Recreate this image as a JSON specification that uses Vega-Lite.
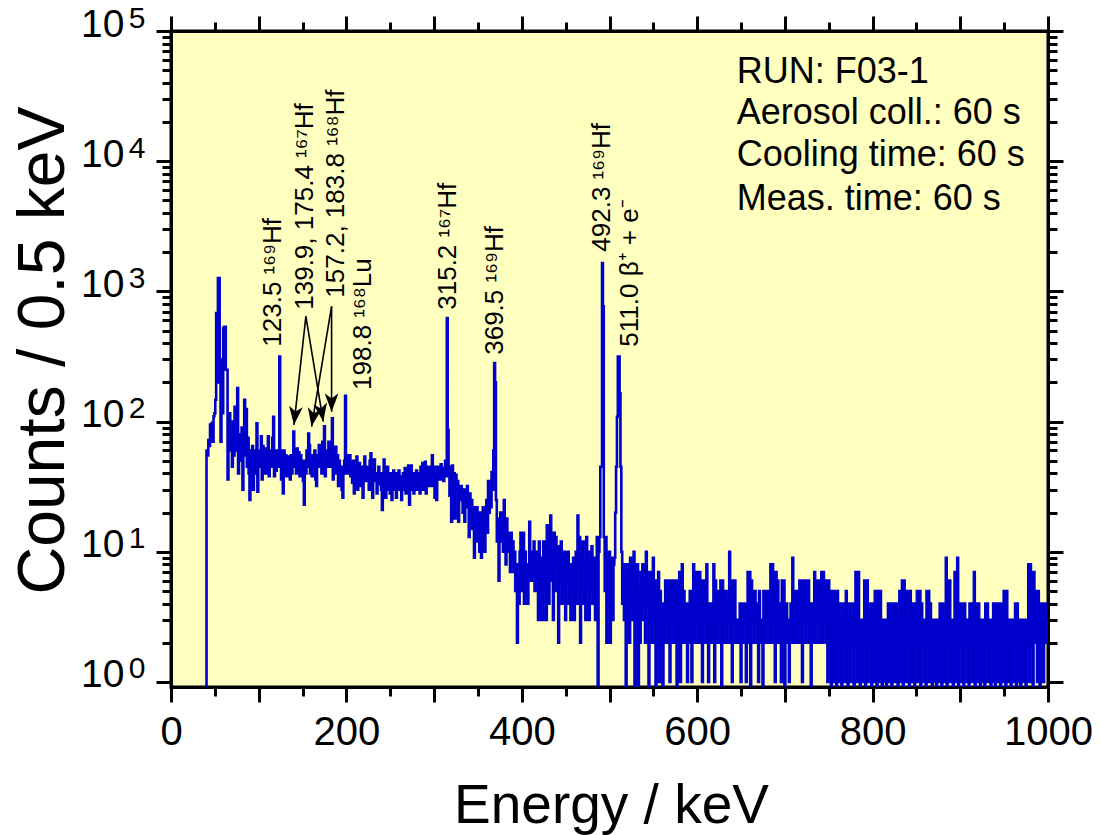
{
"$schema": "https://vega.github.io/schema/vega-lite/v6.json",
"width": 877, "height": 656,
"autosize": {"type": "none"},
"padding": {"left": 171, "top": 31, "right": 53, "bottom": 148},
"background": "white",
"config": {
  "view": {"fill": "#ffffc0", "stroke": "black", "strokeWidth": 3},
  "font": "Liberation Sans",
  "axis": {"domainColor": "black", "domainWidth": 3, "tickColor": "black", "tickWidth": 3, "grid": false, "labelColor": "black", "titleColor": "black", "labelFont": "Liberation Sans", "titleFont": "Liberation Sans", "titleFontWeight": "normal", "labelFlush": false, "labelOverlap": false, "labelBound": false}
},
"resolve": {"axis": {"x": "independent", "y": "independent"}},
"layer": [
{
  "data": {"values": [
{"e":40,"c":0.8},{"e":41,"c":60},{"e":42,"c":55},{"e":43,"c":72},{"e":44,"c":65},{"e":45,"c":95},{"e":46,"c":80},{"e":47,"c":98},{"e":48,"c":70},{"e":49,"c":110},
{"e":50,"c":116},{"e":51,"c":147},{"e":52,"c":682},{"e":53,"c":200},{"e":54,"c":1268},{"e":55,"c":1268},{"e":56,"c":300},{"e":57,"c":70},{"e":58,"c":116},{"e":59,"c":116},
{"e":60,"c":523},{"e":61,"c":535},{"e":62,"c":535},{"e":63,"c":250},{"e":64,"c":250},{"e":65,"c":36},{"e":66,"c":80},{"e":67,"c":116},{"e":68,"c":60},{"e":69,"c":72},
{"e":70,"c":45},{"e":71,"c":100},{"e":72,"c":55},{"e":73,"c":130},{"e":74,"c":60},{"e":75,"c":95},{"e":76,"c":181},{"e":77,"c":40},{"e":78,"c":80},{"e":79,"c":50},
{"e":80,"c":68},{"e":81,"c":90},{"e":82,"c":30},{"e":83,"c":70},{"e":84,"c":147},{"e":85,"c":55},{"e":86,"c":125},{"e":87,"c":45},{"e":88,"c":75},{"e":89,"c":40},
{"e":90,"c":25},{"e":91,"c":60},{"e":92,"c":45},{"e":93,"c":65},{"e":94,"c":30},{"e":95,"c":55},{"e":96,"c":40},{"e":97,"c":60},{"e":98,"c":97},{"e":99,"c":29},
{"e":100,"c":55},{"e":101,"c":45},{"e":102,"c":60},{"e":103,"c":77},{"e":104,"c":36},{"e":105,"c":65},{"e":106,"c":45},{"e":107,"c":55},{"e":108,"c":40},{"e":109,"c":62},
{"e":110,"c":42},{"e":111,"c":77},{"e":112,"c":38},{"e":113,"c":55},{"e":114,"c":60},{"e":115,"c":45},{"e":116,"c":75},{"e":117,"c":109},{"e":118,"c":38},{"e":119,"c":55},
{"e":120,"c":42},{"e":121,"c":60},{"e":122,"c":50},{"e":123,"c":45},{"e":124,"c":316},{"e":125,"c":60},{"e":126,"c":36},{"e":127,"c":50},{"e":128,"c":28},{"e":129,"c":60},
{"e":130,"c":40},{"e":131,"c":55},{"e":132,"c":38},{"e":133,"c":54},{"e":134,"c":42},{"e":135,"c":50},{"e":136,"c":36},{"e":137,"c":55},{"e":138,"c":40},{"e":139,"c":52},
{"e":140,"c":84},{"e":141,"c":45},{"e":142,"c":60},{"e":143,"c":40},{"e":144,"c":62},{"e":145,"c":45},{"e":146,"c":58},{"e":147,"c":38},{"e":148,"c":55},{"e":149,"c":45},
{"e":150,"c":50},{"e":151,"c":35},{"e":152,"c":23},{"e":153,"c":50},{"e":154,"c":40},{"e":155,"c":60},{"e":156,"c":45},{"e":157,"c":81},{"e":158,"c":66},{"e":159,"c":40},
{"e":160,"c":55},{"e":161,"c":38},{"e":162,"c":50},{"e":163,"c":45},{"e":164,"c":60},{"e":165,"c":36},{"e":166,"c":32},{"e":167,"c":55},{"e":168,"c":45},{"e":169,"c":66},
{"e":170,"c":50},{"e":171,"c":60},{"e":172,"c":40},{"e":173,"c":70},{"e":174,"c":55},{"e":175,"c":92},{"e":176,"c":38},{"e":177,"c":60},{"e":178,"c":45},{"e":179,"c":55},
{"e":180,"c":70},{"e":181,"c":50},{"e":182,"c":45},{"e":183,"c":65},{"e":184,"c":106},{"e":185,"c":36},{"e":186,"c":55},{"e":187,"c":45},{"e":188,"c":64},{"e":189,"c":40},
{"e":190,"c":55},{"e":191,"c":32},{"e":192,"c":50},{"e":193,"c":40},{"e":194,"c":45},{"e":195,"c":30},{"e":196,"c":26},{"e":197,"c":40},{"e":198,"c":50},{"e":199,"c":158},
{"e":200,"c":45},{"e":201,"c":40},{"e":202,"c":55},{"e":203,"c":42},{"e":204,"c":55},{"e":205,"c":38},{"e":206,"c":45},{"e":207,"c":34},{"e":208,"c":50},{"e":209,"c":28},
{"e":210,"c":45},{"e":211,"c":35},{"e":212,"c":54},{"e":213,"c":30},{"e":214,"c":40},{"e":215,"c":48},{"e":216,"c":32},{"e":217,"c":45},{"e":218,"c":36},{"e":219,"c":26},
{"e":220,"c":40},{"e":221,"c":54},{"e":222,"c":35},{"e":223,"c":45},{"e":224,"c":36},{"e":225,"c":42},{"e":226,"c":30},{"e":227,"c":50},{"e":228,"c":57},{"e":229,"c":32},
{"e":230,"c":26},{"e":231,"c":42},{"e":232,"c":51},{"e":233,"c":35},{"e":234,"c":40},{"e":235,"c":28},{"e":236,"c":38},{"e":237,"c":45},{"e":238,"c":33},{"e":239,"c":40},
{"e":240,"c":30},{"e":241,"c":21},{"e":242,"c":40},{"e":243,"c":51},{"e":244,"c":35},{"e":245,"c":26},{"e":246,"c":38},{"e":247,"c":45},{"e":248,"c":30},{"e":249,"c":38},
{"e":250,"c":28},{"e":251,"c":40},{"e":252,"c":25},{"e":253,"c":35},{"e":254,"c":42},{"e":255,"c":30},{"e":256,"c":38},{"e":257,"c":26},{"e":258,"c":40},{"e":259,"c":33},
{"e":260,"c":42},{"e":261,"c":30},{"e":262,"c":38},{"e":263,"c":25},{"e":264,"c":36},{"e":265,"c":40},{"e":266,"c":30},{"e":267,"c":44},{"e":268,"c":28},{"e":269,"c":38},
{"e":270,"c":34},{"e":271,"c":46},{"e":272,"c":23},{"e":273,"c":40},{"e":274,"c":46},{"e":275,"c":30},{"e":276,"c":38},{"e":277,"c":28},{"e":278,"c":40},{"e":279,"c":32},
{"e":280,"c":42},{"e":281,"c":30},{"e":282,"c":36},{"e":283,"c":40},{"e":284,"c":28},{"e":285,"c":45},{"e":286,"c":35},{"e":287,"c":48},{"e":288,"c":30},{"e":289,"c":40},
{"e":290,"c":49},{"e":291,"c":28},{"e":292,"c":45},{"e":293,"c":35},{"e":294,"c":42},{"e":295,"c":32},{"e":296,"c":45},{"e":297,"c":38},{"e":298,"c":55},{"e":299,"c":32},
{"e":300,"c":45},{"e":301,"c":26},{"e":302,"c":40},{"e":303,"c":25},{"e":304,"c":45},{"e":305,"c":38},{"e":306,"c":42},{"e":307,"c":36},{"e":308,"c":47},{"e":309,"c":40},
{"e":310,"c":44},{"e":311,"c":35},{"e":312,"c":40},{"e":313,"c":50},{"e":314,"c":38},{"e":315,"c":624},{"e":316,"c":86},{"e":317,"c":40},{"e":318,"c":27},{"e":319,"c":45},
{"e":320,"c":17},{"e":321,"c":46},{"e":322,"c":35},{"e":323,"c":40},{"e":324,"c":18},{"e":325,"c":39},{"e":326,"c":30},{"e":327,"c":35},{"e":328,"c":17},{"e":329,"c":29},
{"e":330,"c":25},{"e":331,"c":32},{"e":332,"c":29},{"e":333,"c":20},{"e":334,"c":30},{"e":335,"c":17},{"e":336,"c":28},{"e":337,"c":25},{"e":338,"c":32},{"e":339,"c":22},
{"e":340,"c":13},{"e":341,"c":28},{"e":342,"c":20},{"e":343,"c":25},{"e":344,"c":15},{"e":345,"c":22},{"e":346,"c":9},{"e":347,"c":18},{"e":348,"c":15},{"e":349,"c":22},
{"e":350,"c":12},{"e":351,"c":18},{"e":352,"c":10},{"e":353,"c":20},{"e":354,"c":9},{"e":355,"c":15},{"e":356,"c":22},{"e":357,"c":12},{"e":358,"c":10},{"e":359,"c":18},
{"e":360,"c":25},{"e":361,"c":14},{"e":362,"c":35},{"e":363,"c":20},{"e":364,"c":30},{"e":365,"c":22},{"e":366,"c":41},{"e":367,"c":30},{"e":368,"c":60},{"e":369,"c":281},
{"e":370,"c":200},{"e":371,"c":25},{"e":372,"c":12},{"e":373,"c":18},{"e":374,"c":6},{"e":375,"c":14},{"e":376,"c":20},{"e":377,"c":12},{"e":378,"c":19},{"e":379,"c":10},
{"e":380,"c":25},{"e":381,"c":15},{"e":382,"c":8},{"e":383,"c":18},{"e":384,"c":14},{"e":385,"c":10},{"e":386,"c":12},{"e":387,"c":7},{"e":388,"c":14},{"e":389,"c":9},
{"e":390,"c":12},{"e":391,"c":7},{"e":392,"c":10},{"e":393,"c":5},{"e":394,"c":8},{"e":395,"c":2},{"e":396,"c":6},{"e":397,"c":4},{"e":398,"c":10},{"e":399,"c":14},
{"e":400,"c":5},{"e":401,"c":8},{"e":402,"c":14},{"e":403,"c":4},{"e":404,"c":10},{"e":405,"c":5},{"e":406,"c":8},{"e":407,"c":4},{"e":408,"c":7},{"e":409,"c":17},
{"e":410,"c":8},{"e":411,"c":6},{"e":412,"c":10},{"e":413,"c":7},{"e":414,"c":12},{"e":415,"c":5},{"e":416,"c":9},{"e":417,"c":6},{"e":418,"c":10},{"e":419,"c":3},
{"e":420,"c":12},{"e":421,"c":6},{"e":422,"c":3},{"e":423,"c":9},{"e":424,"c":3},{"e":425,"c":12},{"e":426,"c":5},{"e":427,"c":10},{"e":428,"c":3},{"e":429,"c":16},
{"e":430,"c":8},{"e":431,"c":4},{"e":432,"c":12},{"e":433,"c":19},{"e":434,"c":6},{"e":435,"c":10},{"e":436,"c":3},{"e":437,"c":14},{"e":438,"c":8},{"e":439,"c":13},
{"e":440,"c":5},{"e":441,"c":9},{"e":442,"c":2},{"e":443,"c":11},{"e":444,"c":6},{"e":445,"c":12},{"e":446,"c":4},{"e":447,"c":8},{"e":448,"c":5},{"e":449,"c":10},
{"e":450,"c":3},{"e":451,"c":9},{"e":452,"c":6},{"e":453,"c":10},{"e":454,"c":4},{"e":455,"c":7},{"e":456,"c":3},{"e":457,"c":8},{"e":458,"c":5},{"e":459,"c":9},
{"e":460,"c":3},{"e":461,"c":6},{"e":462,"c":10},{"e":463,"c":4},{"e":464,"c":19},{"e":465,"c":8},{"e":466,"c":13},{"e":467,"c":2},{"e":468,"c":9},{"e":469,"c":5},
{"e":470,"c":12},{"e":471,"c":4},{"e":472,"c":8},{"e":473,"c":3},{"e":474,"c":13},{"e":475,"c":6},{"e":476,"c":10},{"e":477,"c":3},{"e":478,"c":8},{"e":479,"c":5},
{"e":480,"c":11},{"e":481,"c":4},{"e":482,"c":9},{"e":483,"c":6},{"e":484,"c":3},{"e":485,"c":8},{"e":486,"c":13},{"e":487,"c":0.8},{"e":488,"c":10},{"e":489,"c":13},
{"e":490,"c":45},{"e":491,"c":45},{"e":492,"c":1653},{"e":493,"c":767},{"e":494,"c":13},{"e":495,"c":5},{"e":496,"c":13},{"e":497,"c":2},{"e":498,"c":9},{"e":499,"c":4},
{"e":500,"c":10},{"e":501,"c":2},{"e":502,"c":6},{"e":503,"c":9},{"e":504,"c":3},{"e":505,"c":8},{"e":506,"c":9},{"e":507,"c":20},{"e":508,"c":45},{"e":509,"c":109},
{"e":510,"c":316},{"e":511,"c":316},{"e":512,"c":165},{"e":513,"c":45},{"e":514,"c":10},{"e":515,"c":4},{"e":516,"c":8},{"e":517,"c":3},{"e":518,"c":6},{"e":519,"c":0.8},
{"e":520,"c":8},{"e":521,"c":3},{"e":522,"c":6},{"e":523,"c":2},{"e":524,"c":9},{"e":525,"c":4},{"e":526,"c":8},{"e":527,"c":3},{"e":528,"c":10},{"e":529,"c":0.8},
{"e":530,"c":6},{"e":531,"c":3},{"e":532,"c":8},{"e":533,"c":0.8},{"e":534,"c":5},{"e":535,"c":2},{"e":536,"c":7},{"e":537,"c":3},{"e":538,"c":8},{"e":539,"c":4},
{"e":540,"c":6},{"e":541,"c":2},{"e":542,"c":10},{"e":543,"c":4},{"e":544,"c":7},{"e":545,"c":0.8},{"e":546,"c":5},{"e":547,"c":3},{"e":548,"c":7},{"e":549,"c":2},
{"e":550,"c":9},{"e":551,"c":3},{"e":552,"c":6},{"e":553,"c":0.8},{"e":554,"c":5},{"e":555,"c":2},{"e":556,"c":7},{"e":557,"c":1},{"e":558,"c":5},{"e":559,"c":2},
{"e":560,"c":4},{"e":561,"c":0.8},{"e":562,"c":4},{"e":563,"c":2},{"e":564,"c":6},{"e":565,"c":3},{"e":566,"c":6},{"e":567,"c":2},{"e":568,"c":6},{"e":569,"c":1},
{"e":570,"c":5},{"e":571,"c":2},{"e":572,"c":6},{"e":573,"c":3},{"e":574,"c":6},{"e":575,"c":2},{"e":576,"c":5},{"e":577,"c":0.8},{"e":578,"c":6},{"e":579,"c":2},
{"e":580,"c":7},{"e":581,"c":1},{"e":582,"c":3},{"e":583,"c":8},{"e":584,"c":2},{"e":585,"c":5},{"e":586,"c":2},{"e":587,"c":4},{"e":588,"c":3},{"e":589,"c":1},
{"e":590,"c":4},{"e":591,"c":2},{"e":592,"c":5},{"e":593,"c":3},{"e":594,"c":1},{"e":595,"c":5},{"e":596,"c":8},{"e":597,"c":2},{"e":598,"c":7},{"e":599,"c":3},
{"e":600,"c":7},{"e":601,"c":2},{"e":602,"c":6},{"e":603,"c":7},{"e":604,"c":2},{"e":605,"c":6},{"e":606,"c":1},{"e":607,"c":6},{"e":608,"c":3},{"e":609,"c":6},
{"e":610,"c":2},{"e":611,"c":8},{"e":612,"c":3},{"e":613,"c":1},{"e":614,"c":4},{"e":615,"c":2},{"e":616,"c":4},{"e":617,"c":3},{"e":618,"c":2},{"e":619,"c":8},
{"e":620,"c":1},{"e":621,"c":6},{"e":622,"c":2},{"e":623,"c":5},{"e":624,"c":3},{"e":625,"c":5},{"e":626,"c":2},{"e":627,"c":6},{"e":628,"c":0.8},{"e":629,"c":6},
{"e":630,"c":2},{"e":631,"c":5},{"e":632,"c":3},{"e":633,"c":5},{"e":634,"c":2},{"e":635,"c":4},{"e":636,"c":3},{"e":637,"c":10},{"e":638,"c":2},{"e":639,"c":4},
{"e":640,"c":1},{"e":641,"c":6},{"e":642,"c":3},{"e":643,"c":6},{"e":644,"c":2},{"e":645,"c":3},{"e":646,"c":2},{"e":647,"c":3},{"e":648,"c":2},{"e":649,"c":4},
{"e":650,"c":1},{"e":651,"c":4},{"e":652,"c":2},{"e":653,"c":4},{"e":654,"c":3},{"e":655,"c":4},{"e":656,"c":1},{"e":657,"c":3},{"e":658,"c":7},{"e":659,"c":2},
{"e":660,"c":7},{"e":661,"c":0.8},{"e":662,"c":6},{"e":663,"c":3},{"e":664,"c":5},{"e":665,"c":2},{"e":666,"c":5},{"e":667,"c":3},{"e":668,"c":4},{"e":669,"c":2},
{"e":670,"c":1},{"e":671,"c":5},{"e":672,"c":3},{"e":673,"c":2},{"e":674,"c":3},{"e":675,"c":0.8},{"e":676,"c":5},{"e":677,"c":2},{"e":678,"c":5},{"e":679,"c":3},
{"e":680,"c":5},{"e":681,"c":2},{"e":682,"c":4},{"e":683,"c":3},{"e":684,"c":8},{"e":685,"c":2},{"e":686,"c":8},{"e":687,"c":3},{"e":688,"c":7},{"e":689,"c":1},
{"e":690,"c":7},{"e":691,"c":2},{"e":692,"c":6},{"e":693,"c":3},{"e":694,"c":2},{"e":695,"c":4},{"e":696,"c":1},{"e":697,"c":6},{"e":698,"c":2},{"e":699,"c":6},
{"e":700,"c":0.8},{"e":701,"c":3},{"e":702,"c":4},{"e":703,"c":2},{"e":704,"c":3},{"e":705,"c":1},{"e":706,"c":3},{"e":707,"c":4},{"e":708,"c":2},{"e":709,"c":9},
{"e":710,"c":3},{"e":711,"c":2},{"e":712,"c":3},{"e":713,"c":5},{"e":714,"c":2},{"e":715,"c":5},{"e":716,"c":3},{"e":717,"c":6},{"e":718,"c":2},{"e":719,"c":6},
{"e":720,"c":1},{"e":721,"c":6},{"e":722,"c":3},{"e":723,"c":5},{"e":724,"c":2},{"e":725,"c":6},{"e":726,"c":3},{"e":727,"c":6},{"e":728,"c":2},{"e":729,"c":4},
{"e":730,"c":0.8},{"e":731,"c":4},{"e":732,"c":2},{"e":733,"c":3},{"e":734,"c":7},{"e":735,"c":2},{"e":736,"c":5},{"e":737,"c":3},{"e":738,"c":6},{"e":739,"c":2},
{"e":740,"c":6},{"e":741,"c":3},{"e":742,"c":7},{"e":743,"c":2},{"e":744,"c":7},{"e":745,"c":3},{"e":746,"c":5},{"e":747,"c":2},{"e":748,"c":6},{"e":749,"c":1},
{"e":750,"c":6},{"e":751,"c":2},{"e":752,"c":5},{"e":753,"c":0.8},{"e":754,"c":5},{"e":755,"c":2},{"e":756,"c":1},{"e":757,"c":5},{"e":758,"c":3},{"e":759,"c":0.8},
{"e":760,"c":5},{"e":761,"c":2},{"e":762,"c":4},{"e":763,"c":1},{"e":764,"c":3},{"e":765,"c":0.8},{"e":766,"c":4},{"e":767,"c":2},{"e":768,"c":3},{"e":769,"c":1},
{"e":770,"c":5},{"e":771,"c":2},{"e":772,"c":0.8},{"e":773,"c":3},{"e":774,"c":4},{"e":775,"c":1},{"e":776,"c":3},{"e":777,"c":2},{"e":778,"c":4},{"e":779,"c":0.8},
{"e":780,"c":4},{"e":781,"c":7},{"e":782,"c":2},{"e":783,"c":1},{"e":784,"c":7},{"e":785,"c":3},{"e":786,"c":0.8},{"e":787,"c":3},{"e":788,"c":2},{"e":789,"c":1},
{"e":790,"c":3},{"e":791,"c":6},{"e":792,"c":0.8},{"e":793,"c":2},{"e":794,"c":6},{"e":795,"c":1},{"e":796,"c":3},{"e":797,"c":2},{"e":798,"c":4},{"e":799,"c":0.8},
{"e":800,"c":4},{"e":801,"c":2},{"e":802,"c":1},{"e":803,"c":5},{"e":804,"c":3},{"e":805,"c":0.8},{"e":806,"c":5},{"e":807,"c":4},{"e":808,"c":1},{"e":809,"c":5},
{"e":810,"c":2},{"e":811,"c":0.8},{"e":812,"c":3},{"e":813,"c":2},{"e":814,"c":1},{"e":815,"c":3},{"e":816,"c":0.8},{"e":817,"c":3},{"e":818,"c":4},{"e":819,"c":1},
{"e":820,"c":2},{"e":821,"c":4},{"e":822,"c":0.8},{"e":823,"c":3},{"e":824,"c":4},{"e":825,"c":2},{"e":826,"c":1},{"e":827,"c":4},{"e":828,"c":3},{"e":829,"c":0.8},
{"e":830,"c":3},{"e":831,"c":5},{"e":832,"c":1},{"e":833,"c":2},{"e":834,"c":6},{"e":835,"c":0.8},{"e":836,"c":6},{"e":837,"c":2},{"e":838,"c":1},{"e":839,"c":5},
{"e":840,"c":2},{"e":841,"c":3},{"e":842,"c":0.8},{"e":843,"c":5},{"e":844,"c":2},{"e":845,"c":1},{"e":846,"c":4},{"e":847,"c":3},{"e":848,"c":0.8},{"e":849,"c":4},
{"e":850,"c":2},{"e":851,"c":5},{"e":852,"c":1},{"e":853,"c":3},{"e":854,"c":5},{"e":855,"c":0.8},{"e":856,"c":4},{"e":857,"c":2},{"e":858,"c":3},{"e":859,"c":1},
{"e":860,"c":3},{"e":861,"c":0.8},{"e":862,"c":5},{"e":863,"c":2},{"e":864,"c":5},{"e":865,"c":1},{"e":866,"c":4},{"e":867,"c":2},{"e":868,"c":0.8},{"e":869,"c":3},
{"e":870,"c":1},{"e":871,"c":3},{"e":872,"c":2},{"e":873,"c":0.8},{"e":874,"c":3},{"e":875,"c":2},{"e":876,"c":1},{"e":877,"c":4},{"e":878,"c":2},{"e":879,"c":0.8},
{"e":880,"c":4},{"e":881,"c":3},{"e":882,"c":1},{"e":883,"c":3},{"e":884,"c":9},{"e":885,"c":0.8},{"e":886,"c":6},{"e":887,"c":2},{"e":888,"c":6},{"e":889,"c":1},
{"e":890,"c":3},{"e":891,"c":2},{"e":892,"c":0.8},{"e":893,"c":3},{"e":894,"c":7},{"e":895,"c":1},{"e":896,"c":2},{"e":897,"c":9},{"e":898,"c":0.8},{"e":899,"c":4},
{"e":900,"c":2},{"e":901,"c":4},{"e":902,"c":1},{"e":903,"c":3},{"e":904,"c":0.8},{"e":905,"c":4},{"e":906,"c":2},{"e":907,"c":3},{"e":908,"c":1},{"e":909,"c":3},
{"e":910,"c":0.8},{"e":911,"c":4},{"e":912,"c":2},{"e":913,"c":4},{"e":914,"c":1},{"e":915,"c":3},{"e":916,"c":7},{"e":917,"c":0.8},{"e":918,"c":4},{"e":919,"c":2},
{"e":920,"c":1},{"e":921,"c":4},{"e":922,"c":3},{"e":923,"c":0.8},{"e":924,"c":3},{"e":925,"c":2},{"e":926,"c":1},{"e":927,"c":3},{"e":928,"c":0.8},{"e":929,"c":4},
{"e":930,"c":2},{"e":931,"c":4},{"e":932,"c":1},{"e":933,"c":3},{"e":934,"c":2},{"e":935,"c":0.8},{"e":936,"c":3},{"e":937,"c":1},{"e":938,"c":4},{"e":939,"c":2},
{"e":940,"c":0.8},{"e":941,"c":4},{"e":942,"c":3},{"e":943,"c":1},{"e":944,"c":4},{"e":945,"c":2},{"e":946,"c":0.8},{"e":947,"c":4},{"e":948,"c":2},{"e":949,"c":1},
{"e":950,"c":5},{"e":951,"c":2},{"e":952,"c":0.8},{"e":953,"c":5},{"e":954,"c":3},{"e":955,"c":1},{"e":956,"c":3},{"e":957,"c":2},{"e":958,"c":0.8},{"e":959,"c":3},
{"e":960,"c":1},{"e":961,"c":3},{"e":962,"c":2},{"e":963,"c":4},{"e":964,"c":0.8},{"e":965,"c":4},{"e":966,"c":2},{"e":967,"c":1},{"e":968,"c":3},{"e":969,"c":0.8},
{"e":970,"c":3},{"e":971,"c":2},{"e":972,"c":1},{"e":973,"c":3},{"e":974,"c":2},{"e":975,"c":0.8},{"e":976,"c":3},{"e":977,"c":2},{"e":978,"c":8},{"e":979,"c":1},
{"e":980,"c":8},{"e":981,"c":2},{"e":982,"c":7},{"e":983,"c":0.8},{"e":984,"c":7},{"e":985,"c":3},{"e":986,"c":2},{"e":987,"c":5},{"e":988,"c":1},{"e":989,"c":5},
{"e":990,"c":3},{"e":991,"c":0.8},{"e":992,"c":4},{"e":993,"c":2},{"e":994,"c":4},{"e":995,"c":1},{"e":996,"c":3},{"e":997,"c":4},{"e":998,"c":2},{"e":999,"c":3},
{"e":1000,"c":2}
  ]},
  "mark": {"type": "line", "interpolate": "step", "color": "#0000cc", "strokeWidth": 2.6, "clip": true},
  "encoding": {
    "x": {"field": "e", "type": "quantitative",
      "scale": {"domain": [0, 1000], "nice": false, "zero": false},
      "axis": {"orient": "bottom", "values": [0,100,200,300,400,500,600,700,800,900,1000], "tickSize": 15,
        "labelExpr": "datum.value % 200 === 0 ? format(datum.value, 'd') : ''", "labelFontSize": 40, "labelPadding": 10,
        "title": "Energy / keV", "titleFontSize": 55, "titleX": 440, "titleY": 135, "titleBaseline": "alphabetic", "titleAlign": "center"}},
    "y": {"field": "c", "type": "quantitative",
      "scale": {"type": "log", "domain": [0.915, 100000], "nice": false},
      "axis": {"orient": "left", "values": [1,10,100,1000,10000,100000], "tickSize": 15,
        "labelExpr": "'10'", "labelFontSize": 39, "labelPadding": 32, "labelBaseline": "middle", "labelOffset": -7,
        "title": "Counts / 0.5 keV", "titleFontSize": 66, "titleAngle": 270, "titleX": -108, "titleY": 319, "titleBaseline": "alphabetic", "titleAlign": "center"}}
  }
},
{
  "data": {"values": [
    {"e": 153.8, "v": 642, "e2": 140.2, "v2": 94.4},
    {"e": 153.8, "v": 642, "e2": 173.6, "v2": 100},
    {"e": 183.1, "v": 767, "e2": 160.3, "v2": 91.6},
    {"e": 183.1, "v": 767, "e2": 183.1, "v2": 119}
  ]},
  "mark": {"type": "rule", "color": "black", "strokeWidth": 1.6},
  "encoding": {
    "x": {"field": "e", "type": "quantitative",
      "axis": {"orient": "bottom", "values": [50,150,250,350,450,550,650,750,850,950], "tickSize": 9, "labels": false, "domain": false, "title": null}},
    "y": {"field": "v", "type": "quantitative",
      "axis": {"orient": "left", "values": [2,3,4,5,6,7,8,9,20,30,40,50,60,70,80,90,200,300,400,500,600,700,800,900,2000,3000,4000,5000,6000,7000,8000,9000,20000,30000,40000,50000,60000,70000,80000,90000], "tickSize": 9, "labels": false, "domain": false, "title": null}},
    "x2": {"field": "e2"},
    "y2": {"field": "v2"}
  }
},
{
  "data": {"values": [
    {"e": 140.2, "v": 94.4, "a": 6.3},
    {"e": 173.6, "v": 100, "a": -9.4},
    {"e": 160.3, "v": 91.6, "a": 9.5},
    {"e": 183.1, "v": 119, "a": 0}
  ]},
  "mark": {"type": "point", "shape": "M0,0 L-0.75,-2 L0,-1.45 L0.75,-2 Z", "filled": true, "color": "black", "opacity": 1, "size": 340, "strokeWidth": 0},
  "encoding": {
    "x": {"field": "e", "type": "quantitative",
      "axis": {"orient": "top", "values": [0,100,200,300,400,500,600,700,800,900,1000], "tickSize": 15, "labels": false, "title": null}},
    "y": {"field": "v", "type": "quantitative",
      "axis": {"orient": "right", "values": [1,10,100,1000,10000,100000], "tickSize": 15, "labels": false, "title": null}},
    "angle": {"field": "a", "type": "quantitative", "scale": null}
  }
},
{
  "data": {"values": [
    {"e": 116, "v": 376, "t": "123.5 ¹⁶⁹Hf"},
    {"e": 152.7, "v": 723, "t": "139.9, 175.4 ¹⁶⁷Hf"},
    {"e": 188, "v": 895, "t": "157.2, 183.8 ¹⁶⁸Hf"},
    {"e": 219, "v": 175, "t": "198.8 ¹⁶⁸Lu"},
    {"e": 315.7, "v": 723, "t": "315.2 ¹⁶⁷Hf"},
    {"e": 370, "v": 326, "t": "369.5 ¹⁶⁹Hf"},
    {"e": 491, "v": 2018, "t": "492.3 ¹⁶⁹Hf"},
    {"e": 523, "v": 376, "t": "511.0 β⁺ + e⁻"}
  ]},
  "mark": {"type": "text", "angle": 270, "align": "left", "baseline": "middle", "fontSize": 26, "font": "Liberation Sans", "color": "black"},
  "encoding": {
    "x": {"field": "e", "type": "quantitative",
      "axis": {"orient": "top", "values": [50,150,250,350,450,550,650,750,850,950], "tickSize": 9, "labels": false, "domain": false, "title": null}},
    "y": {"field": "v", "type": "quantitative",
      "axis": {"orient": "right", "values": [2,3,4,5,6,7,8,9,20,30,40,50,60,70,80,90,200,300,400,500,600,700,800,900,2000,3000,4000,5000,6000,7000,8000,9000,20000,30000,40000,50000,60000,70000,80000,90000], "tickSize": 9, "labels": false, "domain": false, "title": null}},
    "text": {"field": "t"}
  }
},
{
  "data": {"values": [
    {"e": 645, "v": 40100, "t": "RUN: F03-1"},
    {"e": 645, "v": 19400, "t": "Aerosol coll.: 60 s"},
    {"e": 645, "v": 9160, "t": "Cooling time: 60 s"},
    {"e": 645, "v": 4250, "t": "Meas. time: 60 s"}
  ]},
  "mark": {"type": "text", "align": "left", "baseline": "alphabetic", "fontSize": 36, "font": "Liberation Sans", "color": "black"},
  "encoding": {
    "x": {"field": "e", "type": "quantitative", "axis": null},
    "y": {"field": "v", "type": "quantitative",
      "axis": {"orient": "left", "values": [1,10,100,1000,10000,100000], "ticks": false, "tickSize": 0, "domain": false,
        "labelExpr": "'' + round(log(datum.value) / LN10)", "labelFontSize": 30, "labelPadding": 26, "labelBaseline": "middle", "labelOffset": -13, "title": null}},
    "text": {"field": "t"}
  }
}
]
}
